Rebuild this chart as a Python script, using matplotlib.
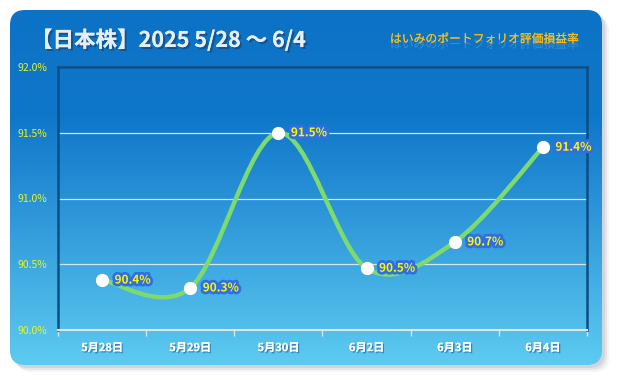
import matplotlib
matplotlib.use("Agg")
import matplotlib.pyplot as plt
import matplotlib.patheffects as pe
import numpy as np
from matplotlib.patches import FancyBboxPatch, PathPatch
from matplotlib.path import Path
from matplotlib.colors import LinearSegmentedColormap

plt.rcParams["font.family"] = ["Noto Sans CJK JP", "DejaVu Sans"]

# data
dates = ["5月28日", "5月29日", "5月30日", "6月2日", "6月3日", "6月4日"]
rates = [90.38, 90.32, 91.50, 90.47, 90.67, 91.39]
labels = ["90.4%", "90.3%", "91.5%", "90.5%", "90.7%", "91.4%"]
yticks = [90.0, 90.5, 91.0, 91.5, 92.0]

W, H = 617, 380
fig = plt.figure(figsize=(W / 100, H / 100), dpi=100)
fig.patch.set_facecolor("white")

# background panel (pixel coordinates)
bg = fig.add_axes([0, 0, 1, 1])
bg.set_xlim(0, W)
bg.set_ylim(H, 0)
bg.axis("off")

for off, a in [(7, 0.10), (5, 0.15), (3, 0.2)]:
    bg.add_patch(FancyBboxPatch((10 + off, 10 + off), 592, 355,
                                boxstyle="round,pad=0,rounding_size=15",
                                fc="#8a95a5", ec="none", alpha=a))
panel = FancyBboxPatch((10, 10), 592, 355, boxstyle="round,pad=0,rounding_size=15",
                       fc="none", ec="none")
bg.add_patch(panel)
grad_cmap = LinearSegmentedColormap.from_list(
    "bgc", [(0, "#0c72c6"), (0.3, "#0f77c9"), (0.55, "#2b93d7"), (1.0, "#5dcbf1")])
grad = np.linspace(0, 1, 256).reshape(-1, 1)
im = bg.imshow(grad, cmap=grad_cmap, extent=(10, 602, 365, 10), aspect="auto", zorder=1)
im.set_clip_path(panel)

shadow = [pe.withSimplePatchShadow(offset=(1.5, -1.5), shadow_rgbFace="#1a3f66", alpha=0.6),
          pe.Normal()]
bg.text(31, 40, "【日本株】2025 5/28 〜 6/4", color="#e6eef8", fontsize=15.5,
        fontweight="bold", va="center", ha="left", zorder=3, path_effects=shadow)
bg.text(578, 39, "はいみのポートフォリオ評価損益率", color="#ffbf10", fontsize=8.5,
        style="italic", va="center", ha="right", zorder=3,
        path_effects=[pe.withSimplePatchShadow(offset=(0, -4), shadow_rgbFace="#c8d8e8", alpha=0.25),
                      pe.Normal()])

# chart area
ax = fig.add_axes([58 / W, 1 - 330 / H, 529 / W, 263 / H])
ax.patch.set_alpha(0)
x = np.arange(len(dates))
ax.set_xlim(-0.5, len(dates) - 0.5)
ax.set_ylim(yticks[0], yticks[-1])

for v in yticks[1:]:
    ax.axhline(v, color="#cfe6f7", lw=0.9, zorder=1)

# smoothed line (cubic Bezier segments like a spreadsheet "smoothed line")
pts = np.column_stack([x, rates]).astype(float)
verts = [tuple(pts[0])]
codes = [Path.MOVETO]
n = len(pts)
for i in range(n - 1):
    p0 = pts[i - 1] if i > 0 else pts[i]
    p1, p2 = pts[i], pts[i + 1]
    p3 = pts[i + 2] if i + 2 < n else pts[i + 1]
    c1 = p1 + (p2 - p0) / 6
    c2 = p2 - (p3 - p1) / 6
    verts += [tuple(c1), tuple(c2), tuple(p2)]
    codes += [Path.CURVE4] * 3
ax.add_patch(PathPatch(Path(verts, codes), fc="none", ec="#7ddb6e", lw=3.2,
                       capstyle="round", zorder=3))
ax.plot(x, rates, "o", ms=8.5, color="white", mec="white", zorder=4)

glow = [pe.withStroke(linewidth=4, foreground="#2f6fe2")]
for xi, yi, lab in zip(x, rates, labels):
    ax.annotate(lab, (xi, yi), xytext=(9, 0), textcoords="offset points",
                va="center", ha="left", color="#fff500", fontsize=8.5,
                fontweight="bold", path_effects=glow, zorder=5)

ax.set_yticks(yticks)
ax.set_yticklabels([f"{v:.1f}%" for v in yticks], color="#e8f51a", fontsize=7.5)
ax.set_xticks(x)
ax.set_xticklabels(dates, color="white", fontsize=8, fontweight="bold")
for t in ax.get_xticklabels():
    t.set_path_effects([pe.withSimplePatchShadow(offset=(1, -1), shadow_rgbFace="#2a6d9a", alpha=0.7),
                        pe.Normal()])
ax.set_xticks(np.arange(len(dates) + 1) - 0.5, minor=True)
ax.tick_params(axis="x", which="major", length=0, pad=8)
ax.tick_params(axis="x", which="minor", length=4, color="#dde4ea", width=1)
ax.tick_params(axis="y", length=0, pad=8)

for side in ["left", "right", "top"]:
    ax.spines[side].set_color("#0b4e86")
    ax.spines[side].set_linewidth(1.8)
ax.spines["bottom"].set_color("#dde4ea")
ax.spines["bottom"].set_linewidth(1.5)

fig.savefig("out.png", dpi=100)
